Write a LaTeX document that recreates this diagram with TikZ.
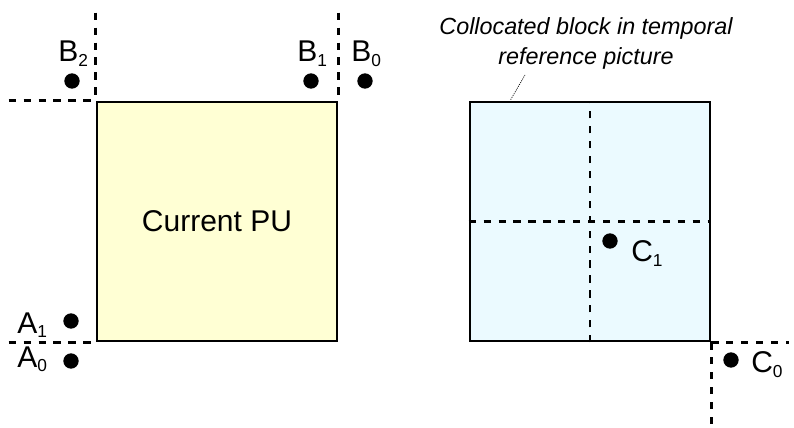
\documentclass[tikz,border=0pt]{standalone}
\usepackage{fontspec}
\setmainfont{Liberation Sans}
\usetikzlibrary{calc}
\definecolor{puyellow}{RGB}{255,255,212}
\definecolor{colblue}{RGB}{235,250,255}
\newcommand\lblsub[2]{#1\raisebox{-3.6pt}{\fontsize{13}{14}\selectfont #2}}
\tikzset{
  blockbox/.style={draw=black, line width=2pt, minimum width=180pt, minimum height=179.25pt, inner sep=0pt},
  dashline/.style={line width=2pt, dash pattern=on 5.4pt off 5.8pt},
  dotmark/.style={circle, fill=black, inner sep=0pt, minimum size=11.5pt},
  lbl/.style={anchor=base west, inner sep=0pt, font=\fontsize{22.5}{24}\selectfont},
  notetext/.style={anchor=base, inner sep=0pt, font=\itshape\fontsize{17.5}{20}\selectfont},
  leader/.style={line width=0.5pt, dash pattern=on 0.8pt off 0.8pt}
}
\begin{document}
\begin{tikzpicture}[x=0.75pt, y=-0.75pt]
\useasboundingbox (0,0) rectangle (794,428);
% boxes
\node[blockbox, fill=puyellow, font=\fontsize{22.5}{24}\selectfont] (L) at (217,221.5) {Current PU};
\node[blockbox, fill=colblue] (R) at (590,221.5) {};
% dashed boundary lines, left block
\draw[dashline] ($(L.north west)+(0,-88)$) -- (L.north west);
\draw[dashline] ($(L.north east)+(0,-88)$) -- (L.north east);
\draw[dashline] ($(L.north west)+(-87,0)$) -- (L.north west);
\draw[dashline] ($(L.south west)+(-87,0)$) -- (L.south west);
% dashed lines, collocated block
\draw[dashline] (R.south) -- (R.north);
\draw[dashline] (R.west) -- (R.east);
\draw[dashline] (R.south east) -- ++(78,0);
\draw[dashline] (R.south east) -- ++(0,84);
% dots
\node[dotmark] (b2) at (72,81) {};
\node[dotmark] (b1) at (311,81) {};
\node[dotmark] (b0) at (365,81) {};
\node[dotmark] (a1) at (71,321) {};
\node[dotmark] (a0) at (71,361) {};
\node[dotmark] (c1) at (610,241) {};
\node[dotmark] (c0) at (731,360) {};
% labels
\node[lbl] (lb2) at (58,62) {\lblsub{B}{2}};
\node[lbl] (lb1) at (297,62) {\lblsub{B}{1}};
\node[lbl] (lb0) at (351,62) {\lblsub{B}{0}};
\node[lbl] (la1) at (17,333) {\lblsub{A}{1}};
\node[lbl] (la0) at (17,367) {\lblsub{A}{0}};
\node[lbl] (lc1) at (631,262) {\lblsub{C}{1}};
\node[lbl] (lc0) at (751,373) {\lblsub{C}{0}};
% note
\node[notetext] (note1) at (586,35) {Collocated block in temporal};
\node[notetext] (note2) at (586,65) {reference picture};
\coordinate (leadtop) at ($(note2.base)+(-61,10)$);
\draw[leader] ($(R.north west)+(42,-1)$) -- (leadtop);
\end{tikzpicture}
\end{document}
